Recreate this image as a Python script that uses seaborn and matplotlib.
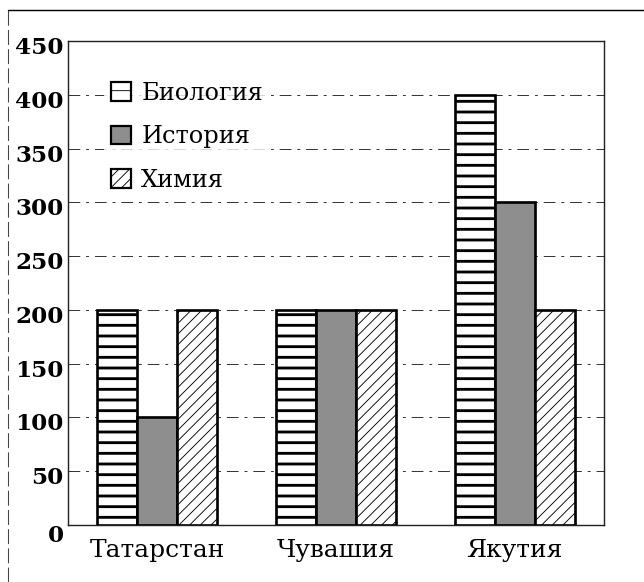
import pandas as pd
import seaborn as sns
import matplotlib.pyplot as plt
from matplotlib.patches import Patch
from matplotlib.lines import Line2D
from matplotlib.transforms import ScaledTranslation

# data
regions = ["Татарстан", "Чувашия", "Якутия"]
subjects = ["Биология", "История", "Химия"]
biology = [200, 200, 400]
history = [100, 200, 300]
chemistry = [200, 200, 200]
y_ticks = [0, 50, 100, 150, 200, 250, 300, 350, 400, 450]

rows = []
for s, vals in zip(subjects, [biology, history, chemistry]):
    for r, v in zip(regions, vals):
        rows.append({"region": r, "subject": s, "value": v})
df = pd.DataFrame(rows)

sns.set_style("white")
plt.rcParams["font.family"] = ["DejaVu Serif"]
plt.rcParams["text.color"] = "black"
plt.rcParams["xtick.color"] = "black"
plt.rcParams["ytick.color"] = "black"

DPI = 64
fig = plt.figure(figsize=(644 / DPI, 582 / DPI), dpi=DPI)
ax = fig.add_axes([68 / 644, 57 / 582, 536 / 644, 484 / 582])

face = {"Биология": "white", "История": "#8e8e8e", "Химия": "white"}
hatch = {"Биология": "-", "История": "", "Химия": "//"}
hatch_lw = {"Биология": 3.2, "История": 1.0, "Химия": 1.0}

sns.barplot(data=df, x="region", y="value", hue="subject", hue_order=subjects,
            order=regions, width=0.67, palette=face, legend=False,
            edgecolor="black", linewidth=3, saturation=1, ax=ax)

for cont, s in zip(ax.containers, subjects):
    for bar in cont:
        bar.set_hatch(hatch[s])
        bar.set_edgecolor("black")
        bar.set_zorder(3)
        if hasattr(bar, "set_hatch_linewidth"):
            bar.set_hatch_linewidth(hatch_lw[s])

ax.set_xlim(-0.5, 2.5)
ax.set_ylim(0, 450)
ax.set_yticks(y_ticks)
ax.set_yticklabels([str(t) for t in y_ticks], fontsize=26, fontweight="bold")
ax.tick_params(axis="y", length=0, pad=5, labelcolor="black")
ax.tick_params(axis="x", length=0, pad=16, labelsize=28, labelcolor="black")
ax.set_xlabel("")
ax.set_ylabel("")

# y labels sit a little below their gridlines in the scan
for i, lab in enumerate(ax.get_yticklabels()):
    dy = -10 / 72 if i == 0 else -5 / 72
    lab.set_transform(lab.get_transform() + ScaledTranslation(0, dy, fig.dpi_scale_trans))

ax.grid(axis="y", color="#333333", linewidth=1.1, linestyle=(0, (12, 6, 3, 6)))
ax.set_axisbelow(True)
for sp in ax.spines.values():
    sp.set_color("#222222")
    sp.set_linewidth(1.6)

handles = []
for s in subjects:
    p = Patch(facecolor=face[s], edgecolor="black", hatch=hatch[s], linewidth=2.5)
    handles.append(p)
leg = ax.legend(handles=handles, labels=subjects, loc="upper left",
                bbox_to_anchor=(0.045, 0.955), fontsize=27, frameon=True,
                handlelength=0.8, handleheight=0.8, handletextpad=0.45,
                labelspacing=0.85, borderpad=0.3, fancybox=False)
leg.get_frame().set_facecolor("white")
leg.get_frame().set_edgecolor("white")
leg.set_zorder(4)
for t in leg.get_texts():
    t.set_color("black")

# scanned page border
fig.add_artist(Line2D([8 / 644, 1], [572 / 582, 572 / 582], color="black", linewidth=1.6))
fig.add_artist(Line2D([8 / 644, 8 / 644], [0, 572 / 582], color="#444444",
                      linewidth=1.2, linestyle=(0, (14, 4))))

fig.savefig("out.png", dpi=DPI)
